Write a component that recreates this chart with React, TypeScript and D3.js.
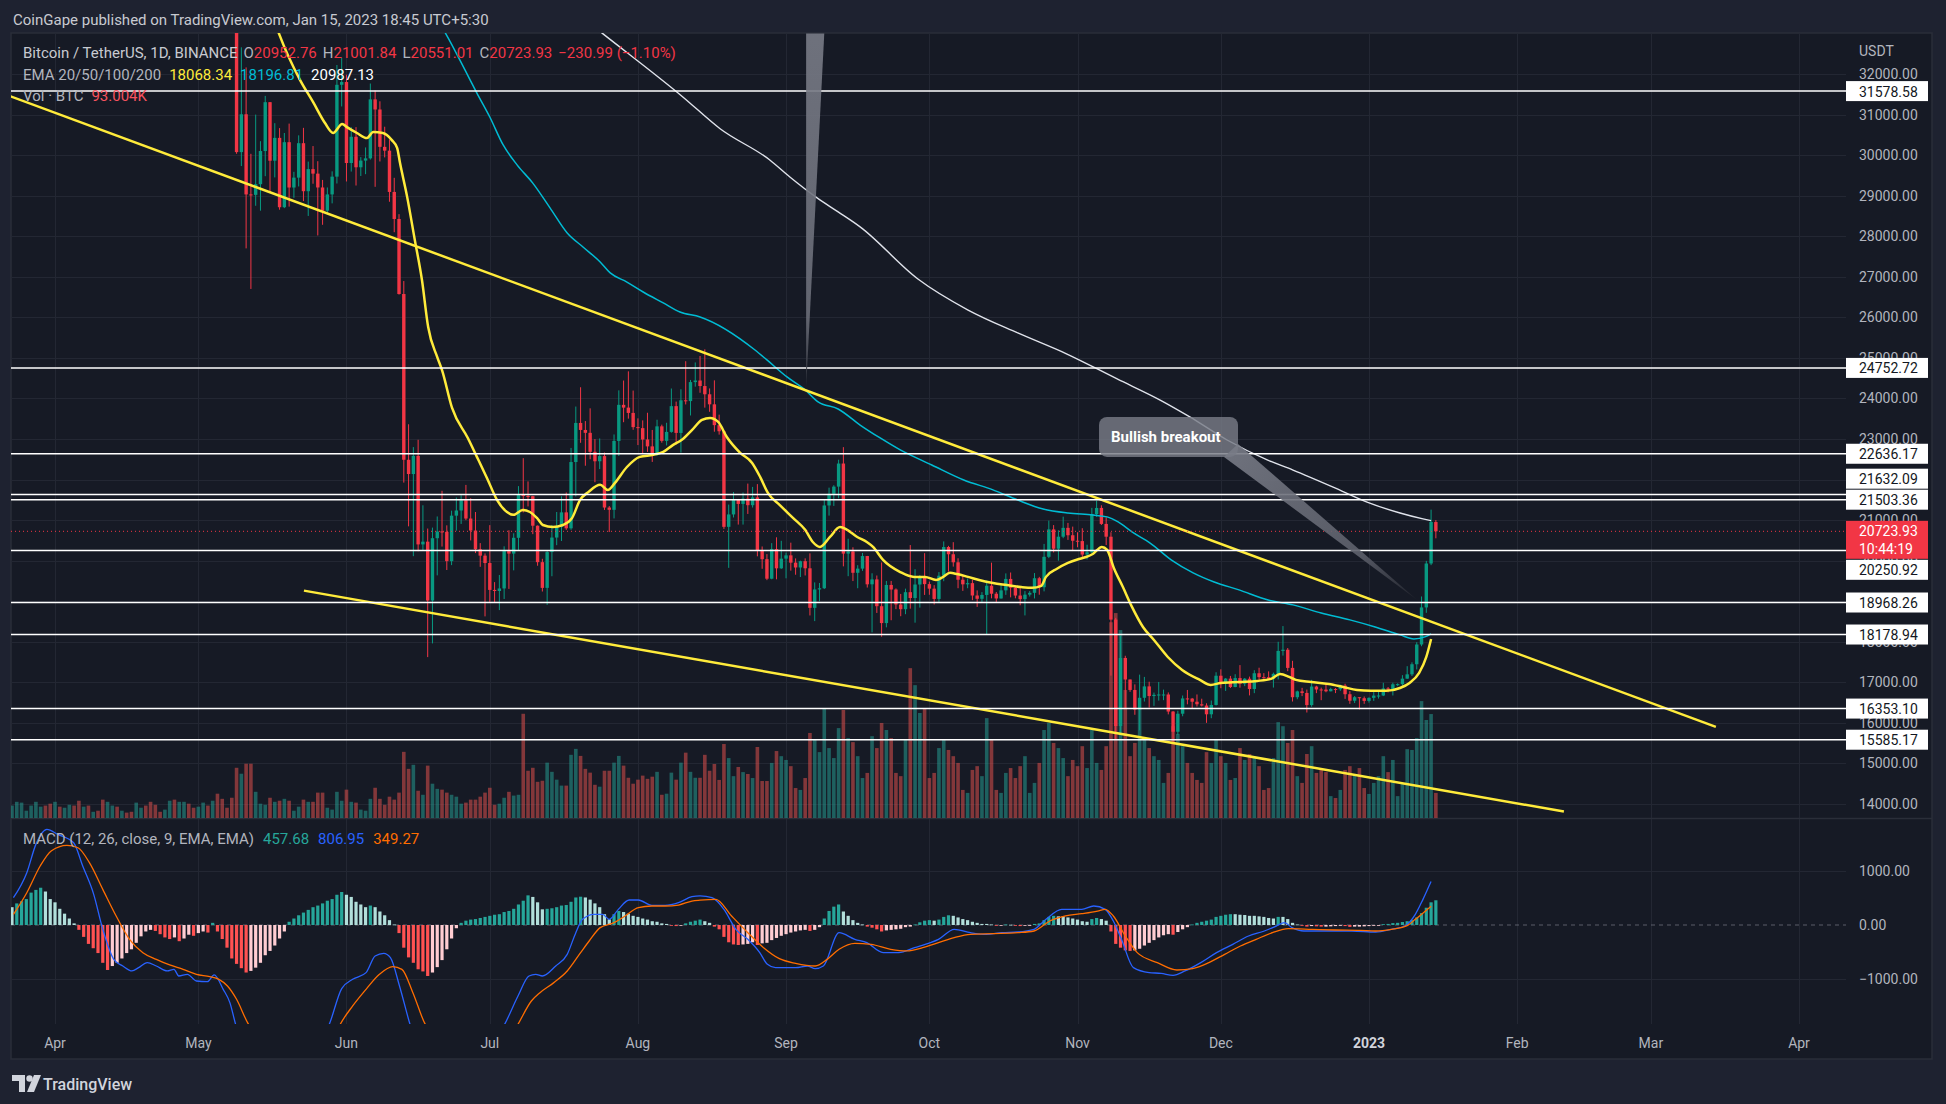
import React from "react";
import * as d3 from "d3";

// ================= DATA =================
// Daily BTC/USDT bars, first bar 2022-03-23, last bar 2023-01-15
const firstBarUTC = Date.UTC(2022, 2, 23);
const firstOpen = 42364;
const closes = [
  42882, 43991, 44313, 44511, 46827, 47122, 47434, 47062, 45538,
  46281, 45868, 46453, 46622, 45555, 43206, 43503, 42287, 42782, 42207,
  39521, 40127, 41166, 39935, 40553, 40424, 39716, 40826, 41502, 41374,
  40527, 39740, 39478, 39490, 40458, 38120, 39242, 39742, 38596, 37630,
  38469, 38525, 37729, 39690, 36552, 36013, 35472, 34060, 30074, 31007,
  29031, 29020, 29283, 30101, 31305, 29862, 30425, 28715, 30319, 29201,
  29445, 30294, 29110, 29655, 29543, 29202, 28629, 29031, 29469, 31734, 31802,
  29805, 30452, 29700, 29865, 29920, 31374, 31125, 30204, 30110, 29092,
  28425, 26575, 22488, 22136, 22583, 20401, 20469, 19017, 20554, 20720,
  20710, 19988, 21110, 21237, 21492, 21039, 20743, 20281, 20124, 19942,
  19279, 19252, 19315, 20236, 20175, 20564, 21624, 21594, 21591, 20862,
  19963, 19329, 20212, 20570, 20837, 21191, 20798, 22432, 23396, 23223,
  23152, 22684, 22451, 22579, 21310, 21254, 22952, 23842, 23774, 23643, 23293,
  23268, 22988, 22818, 22622, 23312, 22954, 23175, 23810, 23150, 23954,
  23935, 24403, 24442, 24306, 24103, 23855, 23342, 23191, 20834, 21140,
  21516, 21399, 21529, 21368, 21560, 20241, 20037, 19555, 20285, 19811, 20050,
  20131, 19951, 19832, 19987, 19812, 18837, 19290, 19320, 21361, 21648,
  21826, 22395, 20174, 20227, 19701, 19804, 20114, 19417, 19538, 18877,
  18461, 19401, 19289, 18920, 18803, 19223, 19079, 19412, 19591, 19422,
  19310, 19056, 19629, 20337, 20158, 19960, 19530, 19417, 19446, 19141,
  19060, 19155, 19382, 19185, 19068, 19268, 19550, 19334, 19140, 19052,
  19162, 19207, 19567, 19345, 20095, 20771, 20295, 20591, 20809, 20627, 20491,
  20483, 20151, 20207, 21148, 21300, 20906, 20591, 18547, 15922, 17601,
  17070, 16812, 16329, 16619, 16900, 16662, 16692, 16700, 16700, 16280,
  15782, 16226, 16603, 16599, 16522, 16459, 16428, 16212, 16442, 17163,
  16977, 17092, 16885, 17105, 16966, 17089, 16836, 17224, 17128, 17127,
  17085, 17209, 17775, 17804, 17356, 16633, 16777, 16738, 16439, 16896,
  16824, 16821, 16779, 16837, 16830, 16920, 16707, 16547, 16633, 16608, 16542,
  16617, 16673, 16675, 16850, 16831, 16951, 16955, 17091, 17197, 17446,
  17933, 18847, 19930, 20952.76, 20723.93,
];
const highs = [
  43000, 44250, 45090, 44800, 46900, 48190, 48100, 47700, 47600,
  46720, 47200, 47440, 46880, 47200, 45560, 43900, 43970, 42800, 43430,
  42420, 40700, 41560, 41500, 40850, 40710, 40600, 41000, 41760, 42200,
  42980, 40800, 39990, 39900, 40620, 40800, 39460, 40370, 39930, 38800,
  38680, 39170, 38650, 40020, 39850, 36680, 36130, 35510, 34243, 32658,
  32162, 30032, 30999, 30343, 31460, 31308, 30787, 30666, 30545, 30777,
  29588, 30487, 30672, 29840, 30223, 29850, 29388, 29202, 29600, 32222, 32399,
  31982, 30690, 30690, 29950, 30189, 31765, 31589, 31327, 30700, 30383,
  29440, 28544, 26895, 23363, 22800, 22981, 21365, 20792, 20815, 21090,
  21723, 20871, 21233, 21558, 21614, 21868, 21540, 21200, 20433, 20179,
  20876, 19471, 19647, 20354, 20750, 20675, 21838, 22527, 21954, 21599,
  20868, 20046, 20250, 20880, 21200, 21588, 21681, 22780, 23800, 24276,
  23442, 23756, 22998, 23014, 22666, 21347, 23112, 24199, 24442, 24668, 24194,
  23509, 23459, 23647, 23223, 23475, 23354, 23400, 24245, 23922, 24226,
  24918, 24456, 24888, 25047, 25211, 24247, 24446, 23600, 23208, 21383,
  21692, 21522, 21680, 21900, 21819, 21887, 20350, 20161, 20432, 20576, 20490,
  20198, 20444, 20056, 20000, 20057, 20180, 19464, 19450, 21500, 21800,
  21860, 22488, 22799, 20541, 20330, 19888, 20190, 20117, 19689, 19634,
  19956, 19500, 19500, 19316, 19180, 19310, 20385, 19790, 19645, 20185,
  19484, 19395, 19719, 20475, 20365, 20456, 20059, 19627, 19560, 19526,
  19267, 19225, 19513, 19951, 19228, 19425, 19686, 19708, 19349, 19347,
  19250, 19250, 19695, 19601, 20413, 20988, 20877, 20750, 21085, 20931, 20840,
  20700, 20800, 20393, 21302, 21480, 21365, 21069, 20700, 18590, 18150,
  17655, 17070, 16950, 17190, 17134, 17015, 16747, 17009, 16820, 16751,
  16291, 16300, 16675, 16812, 16615, 16701, 16596, 16483, 16551, 17249,
  17320, 17105, 17158, 17200, 17425, 17107, 17141, 17299, 17360, 17227,
  17270, 17240, 18000, 18387, 17846, 17531, 16796, 16864, 16821, 17061,
  16915, 16869, 16955, 16868, 16859, 16943, 16965, 16783, 16663, 16634, 16650,
  16630, 16760, 16772, 16990, 16885, 16991, 16975, 17177, 17398, 17494,
  17990, 19117, 19995, 21258, 21001.84,
];
const lows = [
  41900, 42600, 43700, 44200, 44400, 46600, 46950, 46550, 45200,
  44200, 45620, 45500, 45120, 45350, 43120, 42730, 42120, 42130, 41870,
  39200, 39250, 39550, 39550, 39770, 40000, 39550, 38540, 40570, 40820,
  39760, 39170, 39280, 39180, 38200, 37700, 37870, 38870, 38170, 37580,
  37390, 38050, 37520, 37670, 35860, 35260, 34790, 33710, 30033, 29730,
  27700, 26700, 28751, 28630, 29480, 29075, 29450, 28654, 28693, 28730,
  28947, 29227, 28866, 28500, 29294, 28019, 28282, 28577, 28810, 29300, 31200,
  29350, 29594, 29250, 29485, 29530, 29890, 29218, 29843, 29944, 28850,
  28099, 26560, 21925, 20846, 20111, 20232, 20246, 17622, 17960, 19637,
  20348, 19770, 19890, 20740, 20906, 21000, 20499, 20187, 19848, 18626,
  18975, 18977, 18781, 19055, 19304, 19761, 20257, 21189, 21338, 20654,
  19875, 19239, 18910, 19616, 20382, 20485, 20760, 20762, 21582, 22906,
  22341, 22500, 21934, 22258, 21250, 20706, 21042, 22582, 23414, 23502, 23227,
  22850, 22654, 22681, 22435, 22587, 22909, 22841, 23155, 22865, 22664,
  23852, 23580, 24291, 24140, 23773, 23671, 23180, 23108, 20783, 19823,
  21065, 20890, 20890, 21152, 21310, 20107, 19800, 19520, 19541, 19540, 19797,
  19565, 19754, 19653, 19596, 19635, 18649, 18510, 19000, 19300, 21111,
  21350, 21538, 19860, 19617, 19497, 19320, 19748, 19337, 18232, 18711,
  18125, 18356, 18531, 18805, 18630, 18680, 18816, 18471, 18843, 19155,
  19159, 18920, 18959, 19493, 19730, 19853, 19320, 19255, 19320, 19027,
  18860, 18966, 18190, 19071, 18975, 19063, 19157, 19095, 19071, 18900,
  18650, 19115, 19068, 19160, 19243, 20062, 20204, 20000, 20554, 20512, 20237,
  20330, 20048, 20031, 20180, 21080, 20880, 20384, 17166, 15588, 15754,
  16361, 16766, 16200, 15815, 16527, 16378, 16420, 16549, 16560, 16210,
  15476, 15703, 16163, 16458, 16355, 16404, 16405, 16001, 16115, 16428,
  16855, 16788, 16860, 16878, 16868, 16906, 16678, 16733, 17058, 17087,
  17071, 16871, 17071, 17660, 17275, 16527, 16584, 16660, 16256, 16399,
  16734, 16560, 16755, 16778, 16734, 16791, 16592, 16470, 16489, 16333, 16470,
  16500, 16543, 16600, 16660, 16753, 16676, 16910, 16912, 17085, 17156,
  17317, 17890, 18714, 19890, 20551.01,
];
// Volume, thousands of BTC
const volumesK = [
  46, 60, 57, 27, 46, 60, 42, 46, 53, 60, 42, 38, 49, 46, 64, 42, 46, 23, 27, 68,
  60, 46, 42, 27, 20, 23, 57, 38, 46, 60, 49, 23, 31, 64, 68, 60, 60, 53, 38, 42,
  57, 46, 64, 90, 71, 38, 75, 186, 164, 201, 201, 97, 53, 49, 75, 60, 64, 71, 64, 27,
  42, 68, 60, 60, 94, 94, 38, 31, 97, 64, 105, 60, 57, 31, 27, 71, 112, 71, 49, 79,
  68, 94, 245, 182, 197, 101, 86, 194, 127, 108, 105, 94, 86, 79, 53, 57, 68, 68, 79, 94,
  112, 49, 53, 75, 97, 83, 86, 386, 175, 186, 134, 138, 205, 171, 142, 120, 120, 234, 256, 230,
  182, 168, 123, 116, 175, 175, 205, 230, 194, 149, 127, 142, 157, 145, 153, 171, 86, 90, 168, 142,
  205, 242, 171, 149, 149, 234, 175,
  200, 141, 274, 222, 155, 189, 170, 163, 148, 263, 137, 137, 204, 248, 229,
  215, 192, 111, 104, 148, 315, 289, 244, 407, 259, 222, 333, 400, 296, 281, 229, 148, 167, 303, 259,
  352, 326, 296, 167, 155, 289, 555, 492, 389, 407,
  148, 167, 259, 289, 252, 229, 204, 104, 93, 178, 192, 155, 370, 289, 104, 93, 167, 185, 148, 192,
  229, 93, 130, 204, 326, 352, 278, 259, 222, 155, 215,
  192, 266, 185, 326, 204, 178, 266, 725, 759, 696, 474, 229, 278, 407, 296, 259, 229, 215, 130, 167,
  340, 311, 266, 204, 167, 141, 130, 244, 204, 289,
  229, 204, 141, 148, 259, 215, 237, 222, 192, 104, 111, 222, 355, 340, 278, 326, 155, 130, 237, 266,
  167, 185, 170, 81, 74, 104, 178, 192, 163, 185, 111,
  89, 130, 155, 229, 170, 215, 81, 126, 255, 252, 296, 433, 363, 385, 93.004,
];
// MACD histogram, one value per bar
const macdHist = [
  330, 400, 440, 480, 600, 650, 690, 620, 480,
  420, 300, 210, 120, 30, -90, -220, -350, -430, -520,
  -700, -833, -760, -700, -620, -520, -450, -330, -210, -120,
  -90, -110, -170, -230, -260, -230, -300, -250, -180, -200,
  -150, -120, -140, 40, -120, -260, -420, -620, -720, -800,
  -880, -850, -790, -700, -560, -480, -380, -250, -120, 60,
  120, 180, 230, 280, 330, 360, 400, 450, 480, 560, 611,
  560, 520, 430, 380, 330, 360, 330, 250, 180, 90,
  10, -150, -420, -600, -700, -820, -860, -944, -880, -780,
  -650, -450, -250, -60, 40, 80, 100, 110, 130, 150,
  170, 190, 200, 240, 260, 300, 380, 450, 549, 520,
  420, 290, 300, 310, 330, 360, 370, 430, 510, 524,
  510, 470, 400, 330, 200, 105, 200, 260, 240, 210, 170,
  150, 120, 100, 70, 60, 30, 20, -10, -20, -10,
  30, 60, 80, 100, 70, 40, -30, -80, -220, -320,
  -360, -370, -360, -350, -320, -370, -340, -330, -280, -240, -200,
  -170, -140, -120, -100, -90, -110, -90, -40, 120, 260,
  340, 380, 250, 170, 90, 40, 10, -30, -50, -80,
  -120, -100, -90, -80, -70, -40, -30, 10, 50, 80,
  90, 80, 100, 150, 180, 170, 140, 110, 90, 60,
  40, 20, 20, 10, -10, -10, 10, 5, -10, -20,
  -10, -5, 20, 30, 90, 150, 170, 160, 160, 140, 120,
  100, 70, 60, 110, 130, 110, 80, -120, -350, -420,
  -470, -480, -470, -440, -380, -330, -280, -230, -190, -170,
  -180, -130, -80, -40, 10, 40, 60, 80, 100, 150,
  170, 190, 200, 200, 190, 185, 170, 170, 160, 150,
  130, 120, 150, 150, 110, 40, 10, -10, -30, -20,
  -25, -30, -30, -25, -20, -10, -20, -35, -30, -30, -25,
  -20, -10, -5, 15, 20, 35, 40, 55, 70, 90,
  140, 220, 320, 420, 457.68,
];
// Line series as [days after 2022-04-01, value]
const macdLine = [
  [-8.7, 506], [-5.9, 969], [-4.0, 1493], [-1.7, 1771], [0.6, 1678], [3.9, 1524], [5.8, 1092], [8.1, 568],
  [10.0, -80], [12.3, -636], [14.2, -759], [16.1, -851], [17.5, -790], [19.3, -697], [21.2, -759], [23.5, -851],
  [24.9, -821], [25.9, -944], [27.7, -913], [29.6, -1037], [31.9, -1049], [33.3, -925], [35.2, -1191], [36.6, -1438],
  [37.8, -1839], [39.5, -2300], [42, -2750], [45, -2950], [49, -2800], [53, -2400], [57.4, -1839], [60.0, -1178],
  [62.3, -1006], [65.1, -882], [67.0, -574], [68.8, -524], [70.2, -605], [72.1, -1129], [74.3, -1839], [77, -2500],
  [80, -2830], [84, -2650], [88, -2550], [91, -2250], [94.1, -1839], [96.9, -1314], [99.2, -944], [100.6, -913],
  [102.0, -944], [104.8, -759], [107.2, -543], [109.0, -142], [110.4, 105], [112.8, 197], [114.6, 197], [116.0, 105],
  [117.9, 290], [120.2, 463], [122.1, 463], [124.9, 364], [127.7, 364], [130.5, 413], [133.3, 524], [135.0, 540],
  [137.5, 506], [140.0, 290], [142.5, -80], [145.0, -265], [147.5, -512], [149.1, -728], [150.8, -790], [155.0, -790],
  [157.5, -759], [159.1, -808], [160.8, -759], [164.1, -142], [167.4, -265], [169.9, -327], [173.3, -512], [176.6, -512],
  [179.9, -420], [183.2, -327], [184.9, -265], [188.2, -80], [191.6, -142], [194.9, -173], [198.2, -142], [201.5, -130],
  [204.9, -80], [207.4, 105], [210.7, 290], [214.9, 290], [217.4, 352], [219.8, 290], [221.5, 74], [223.2, -265],
  [225.7, -790], [229.0, -882], [231.5, -895], [234.0, -932], [236.5, -851], [239.8, -697], [243.1, -512], [246.5, -358],
  [249.8, -204], [253.1, -111], [255.6, -19], [257.3, 43], [258.9, -49], [261.4, -111], [266.4, -111], [271.4, -111],
  [276.4, -130], [279.7, -80], [282.5, -19], [284.7, 197], [286.3, 475], [288, 806.95],
];
const signalLine = [
  [-8.7, 197], [-5.9, 598], [-3.1, 1092], [-0.8, 1370], [2.5, 1475], [4.8, 1431], [7.2, 1154], [10.0, 660],
  [12.8, 167], [15.6, -265], [18.4, -512], [21.2, -636], [24.0, -740], [26.8, -821], [29.6, -913], [32.4, -956],
  [34.3, -1006], [36.1, -1129], [38.0, -1376], [40.3, -1808], [43, -2150], [47, -2450], [50, -2700], [54, -2600],
  [57.4, -2290], [59.7, -1839], [62.3, -1499], [65.1, -1191], [67.9, -913], [70.7, -771], [72.6, -821], [74.9, -1253],
  [77.5, -1839], [80, -2050], [84, -2600], [88, -2650], [92, -2450], [94.5, -2200], [96.9, -1839], [99.7, -1407],
  [101.5, -1253], [104.4, -1067], [107.2, -851], [110.0, -512], [111.8, -296], [114.1, -49], [117.0, 43], [119.3, 167],
  [122.1, 321], [124.9, 352], [127.7, 352], [130.5, 370], [133.3, 444], [135.0, 460], [138.3, 475], [141.6, 167],
  [145.0, -142], [148.3, -420], [151.6, -623], [155.0, -710], [159.1, -759], [161.6, -636], [164.1, -450], [167.4, -339],
  [170.8, -358], [174.9, -450], [178.3, -481], [181.6, -420], [184.9, -327], [188.2, -234], [191.6, -173], [196.5, -160],
  [201.5, -142], [204.9, -111], [208.2, 74], [211.5, 167], [214.9, 210], [218.2, 259], [219.8, 290], [221.5, 167],
  [224.0, -204], [226.5, -512], [230.7, -697], [234.8, -833], [238.1, -808], [241.5, -697], [244.8, -543], [248.1, -389],
  [251.4, -265], [254.8, -142], [258.1, -68], [263.1, -80], [268.1, -93], [273.1, -99], [276.4, -111], [279.7, -80],
  [283.1, -6], [284.7, 105], [288, 349.27],
];
const ema20 = [
  [44, 34000], [46.9, 32990], [51.3, 31850], [54.0, 31310], [56.5, 30790], [58.2, 30545], [60.1, 30770], [61.1, 30690],
  [63.2, 30545], [65.3, 30420], [66.6, 30570], [68.6, 30545], [70.5, 30370], [71.6, 30180], [72.2, 29810], [73.7, 28970],
  [75.3, 27910], [76.8, 26920], [78.1, 25760], [80.0, 25020], [81.0, 24700], [83.1, 23765], [86.4, 23025], [88.3, 22560],
  [90.4, 22040], [92.5, 21500], [94.6, 21200], [95.9, 21130], [97.9, 21250], [99.4, 21200], [100.9, 21050], [102.1, 20880],
  [104.2, 20830], [106.3, 20880], [108.2, 21050], [109.9, 21500], [111.6, 21690], [114.1, 21870], [115.7, 21740], [117.2, 21920],
  [119.7, 22310], [122.4, 22560], [125.2, 22610], [127.3, 22680], [129.3, 22850], [131.2, 22980], [133.3, 23220], [135.4, 23470],
  [137.1, 23520], [138.8, 23420], [140.6, 23050], [143.4, 22660], [145.9, 22410], [147.6, 22060], [149.2, 21670], [151.7, 21370],
  [154.5, 21050], [157.0, 20760], [158.6, 20460], [160.1, 20340], [162.2, 20585], [164.3, 20830], [165.8, 20760], [167.9, 20585],
  [169.9, 20460], [171.2, 20340], [173.3, 20020], [176.9, 19720], [179.8, 19600], [182.1, 19600], [184.4, 19525], [185.9, 19600],
  [187.3, 19700], [188.8, 19670], [191.1, 19600], [193.4, 19525], [196.3, 19450], [199.2, 19400], [202.2, 19350], [204.5, 19330],
  [206.4, 19380], [207.4, 19600], [209.7, 19800], [212.0, 19945], [214.3, 20040], [215.8, 20090], [217.2, 20165], [219.1, 20340],
  [220.2, 20265], [221.6, 19820], [223.5, 19350], [225.4, 18860], [227.7, 18365], [230.0, 18045], [232.9, 17625], [235.9, 17305],
  [239.6, 17060], [241.9, 16935], [244.0, 16985], [247.8, 17010], [251.6, 17035], [254.5, 17085], [256.4, 17205], [258.3, 17135],
  [259.7, 17060], [262.9, 17010], [266.6, 16960], [269.6, 16885], [272.5, 16810], [275.4, 16790], [278.6, 16790], [281.5, 16860],
  [283.5, 16985], [285.5, 17232], [287, 17626], [288, 18068.34],
];
const ema50 = [
  [78, 33700], [81.8, 32990], [85.8, 32100], [88.3, 31530], [91.0, 30940], [93.8, 30250], [96.7, 29760], [100.0, 29310],
  [103.6, 28700], [107.2, 28080], [110.5, 27735], [114.1, 27365], [116.2, 27095], [119.7, 26870], [123.1, 26625], [127.3, 26355],
  [130.8, 26130], [135.0, 26010], [146.5, 25195], [149.0, 24950], [153.2, 24530], [157.0, 24210], [159.7, 23915], [163.9, 23740],
  [168.5, 23345], [172.7, 23025], [176.9, 22730], [183.5, 22360], [190.2, 21990], [196.3, 21745], [201.5, 21495], [206.8, 21275],
  [212.0, 21175], [217.2, 21125], [220.2, 21080], [222.5, 20955], [225.4, 20710], [229.2, 20435], [233.6, 20020], [238.2, 19700],
  [242.6, 19475], [247.8, 19280], [253.9, 19030], [259.1, 18910], [265.0, 18710], [271.0, 18540], [276.3, 18365], [281.5, 18170],
  [284.4, 18070], [286.7, 18120], [288, 18196.81],
];
const ema200 = [
  [105, 33890], [114.7, 32990], [131.4, 31435], [139.2, 30650], [149.6, 29880], [153.8, 29460], [159.5, 28945], [163.9, 28600],
  [168.5, 28230], [180.6, 26945], [191.1, 26180], [201.5, 25615], [211.8, 25095], [222.3, 24480], [231.3, 23960], [237.5, 23545],
  [245.3, 22975], [253.7, 22485], [259.1, 22235], [267.5, 21815], [274.6, 21445], [281.5, 21175], [286.3, 21030], [288, 20987.13],
];
const levelPrices = [31578.58, 24752.72, 22636.17, 21632.09, 21503.36, 20250.92, 18968.26, 18178.94, 16353.10, 15585.17];
const upperTrend = [[-10, 31480], [347.6, 15900]];
const lowerTrend = [[52.1, 19261], [315.8, 13814]];
const needleShape = { tip: [157.2, 24260], topLeft: [157.2, 33000], topRight: [161.0, 33000] };
const calloutText = "Bullish breakout";
const calloutAnchor = [218.5, 23545];
const calloutTip = [285.1, 19030];
const lastPrice = 20723.93;
const countdown = "10:44:19";
const priceTicks = [14000, 15000, 16000, 17000, 18000, 19000, 20000, 21000, 22000, 23000, 24000, 25000, 26000, 27000, 28000, 29000, 30000, 31000, 32000];
const macdTicks = [1000, 0, -1000];
const macdTickLabels = ["1000.00", "0.00", "\u22121000.00"];
const monthTicks = ["2022-04-01", "2022-05-01", "2022-06-01", "2022-07-01", "2022-08-01", "2022-09-01", "2022-10-01", "2022-11-01", "2022-12-01", "2023-01-01", "2023-02-01", "2023-03-01", "2023-04-01"];
const monthLabels = ["Apr", "May", "Jun", "Jul", "Aug", "Sep", "Oct", "Nov", "Dec", "2023", "Feb", "Mar", "Apr"];

// ================= STYLE / LAYOUT =================
const W = 1946, H = 1104;
const L = 11, R = 1846, T = 33, PB = 818, MB = 1024, FB = 1059, FR = 1932;
const OUTER = "#1e2230", BG = "#161a25", GRID = "#232733", BORDER = "#2a2e39";
const UP = "#089981", DOWN = "#f23645", TXT = "#b2b5be";
const FONT = "Roboto, 'Liberation Sans', Arial, sans-serif";
const DAY = 86400000;
const dayZero = Date.UTC(2022, 3, 1);
const fromDay = (d: number) => new Date(dayZero + d * DAY);
const barDate = (i: number) => new Date(firstBarUTC + i * DAY);

export default function App() {
  const x = d3.scaleUtc().domain([new Date(Date.UTC(2022, 3, 1)), new Date(Date.UTC(2023, 3, 1))]).range([55, 1799]);
  const y = d3.scaleLinear().domain([14000, 32000]).range([804, 74]);
  const yVol = d3.scaleLinear().domain([0, 800]).range([PB, PB - 216]);
  const yM = d3.scaleLinear().domain([-1000, 1000]).range([979, 871]);

  const n = Math.min(closes.length, highs.length, lows.length);
  const bars = d3.range(n).map((i) => {
    const o = i === 0 ? firstOpen : closes[i - 1];
    const c = closes[i];
    return { i, t: barDate(i), o, c, h: highs[i], l: lows[i], up: c >= o };
  });

  const priceLine = d3.line<number[]>().x((p) => x(fromDay(p[0]))).y((p) => y(p[1])).curve(d3.curveMonotoneX);
  const macdPath = d3.line<number[]>().x((p) => x(fromDay(p[0]))).y((p) => yM(p[1])).curve(d3.curveMonotoneX);
  const straight = d3.line<number[]>().x((p) => x(fromDay(p[0]))).y((p) => y(p[1]));

  // level label placement (avoid overlaps like the platform does)
  const cpCy = y(lastPrice);
  const cpTop = cpCy - 10.5, cpBottom = cpCy + 27.5;
  const boxH = 20;
  const labels = levelPrices.map((v) => ({ v, cy: y(v) }));
  labels.forEach((p) => {
    if (p.cy + boxH / 2 > cpTop && p.cy - boxH / 2 < cpBottom) {
      p.cy = p.cy > cpCy ? cpBottom + boxH / 2 + 1 : cpTop - boxH / 2 - 1;
    }
  });
  labels.sort((a, b) => b.cy - a.cy);
  for (let k = 1; k < labels.length; k++) {
    const below = labels[k - 1];
    if (labels[k].cy > below.cy - boxH - 1) labels[k].cy = below.cy - boxH - 1;
  }

  const histColor = (i: number) => {
    const v = macdHist[i];
    const prev = i > 0 ? macdHist[i - 1] : v;
    if (v >= 0) return v > prev ? "#26a69a" : "#b2dfdb";
    return v < prev ? "#ff5252" : "#ffcdd2";
  };

  // annotations
  const nTip = [x(fromDay(needleShape.tip[0])), y(needleShape.tip[1])];
  const nTL = [x(fromDay(needleShape.topLeft[0])), y(needleShape.topLeft[1])];
  const nTR = [x(fromDay(needleShape.topRight[0])), y(needleShape.topRight[1])];
  const cbX = x(fromDay(calloutAnchor[0]));
  const cbY = y(calloutAnchor[1]);
  const cbW = 139, cbH = 40;
  const ctX = x(fromDay(calloutTip[0]));
  const ctY = y(calloutTip[1]);

  return (
    <div style={{ position: "absolute", left: 0, top: 0 }}>
      <svg width={W} height={H} style={{ display: "block", fontFamily: FONT }}>
        <defs>
          <clipPath id="pricePane"><rect x={L} y={T} width={R - L} height={PB - T} /></clipPath>
          <clipPath id="macdPane"><rect x={L} y={PB + 1} width={R - L} height={MB - PB - 1} /></clipPath>
          <linearGradient id="ptrGrad" gradientUnits="userSpaceOnUse" x1={cbX + cbW - 6} y1={cbY + cbH - 6} x2={ctX} y2={ctY}>
            <stop offset="0" stopColor="#787b86" stopOpacity="0.9" />
            <stop offset="0.7" stopColor="#5d606b" stopOpacity="0.9" />
            <stop offset="1" stopColor="#1c1f28" stopOpacity="1" />
          </linearGradient>
          <linearGradient id="needleGrad" gradientUnits="userSpaceOnUse" x1={nTL[0]} y1={nTL[1]} x2={nTip[0]} y2={nTip[1]}>
            <stop offset="0" stopColor="#787b86" stopOpacity="0.9" />
            <stop offset="0.8" stopColor="#6a6d78" stopOpacity="0.9" />
            <stop offset="1" stopColor="#2a2d36" stopOpacity="1" />
          </linearGradient>
        </defs>

        <rect x={0} y={0} width={W} height={H} fill={OUTER} />
        <text x={13} y={20} fill="#c8cad1" fontSize={15} dominantBaseline="central">
          CoinGape published on TradingView.com, Jan 15, 2023 18:45 UTC+5:30
        </text>

        <rect x={L} y={T} width={FR - L} height={FB - T} fill={BG} stroke={BORDER} strokeWidth={1.5} />

        {/* grids */}
        {monthTicks.map((m, k) => {
          const xx = Math.round(x(new Date(m + "T00:00:00Z"))) + 0.5;
          return <line key={"vg" + k} x1={xx} x2={xx} y1={T} y2={MB} stroke={GRID} strokeWidth={1} />;
        })}
        {priceTicks.map((p) => (
          <line key={"hg" + p} x1={L} x2={R} y1={Math.round(y(p)) + 0.5} y2={Math.round(y(p)) + 0.5} stroke={GRID} strokeWidth={1} />
        ))}
        {macdTicks.filter((v) => v !== 0).map((v) => (
          <line key={"mg" + v} x1={L} x2={R} y1={Math.round(yM(v)) + 0.5} y2={Math.round(yM(v)) + 0.5} stroke={GRID} strokeWidth={1} />
        ))}
        <line x1={L} x2={FR} y1={PB + 0.5} y2={PB + 0.5} stroke={BORDER} strokeWidth={1.5} />

        {/* price pane */}
        <g clipPath="url(#pricePane)">
          {bars.map((b) => (
            <rect key={"v" + b.i} x={x(b.t) - 1.8} width={3.6} y={yVol(volumesK[b.i] || 0)} height={PB - yVol(volumesK[b.i] || 0)}
              fill={b.up ? "rgba(38,166,154,0.5)" : "rgba(239,83,80,0.5)"} />
          ))}
          {bars.map((b) => {
            const cx = x(b.t);
            const top = y(Math.max(b.o, b.c));
            const hgt = Math.max(1, Math.abs(y(b.o) - y(b.c)));
            const col = b.up ? UP : DOWN;
            return (
              <g key={"c" + b.i}>
                <line x1={cx} x2={cx} y1={y(b.h)} y2={y(b.l)} stroke={col} strokeWidth={1} />
                <rect x={cx - 1.7} width={3.4} y={top} height={hgt} fill={col} />
              </g>
            );
          })}
          <path d={priceLine(ema200) || ""} fill="none" stroke="#e0e3eb" strokeWidth={1.4} />
          <path d={priceLine(ema50) || ""} fill="none" stroke="#00bcd4" strokeWidth={1.5} />
          <path d={priceLine(ema20) || ""} fill="none" stroke="#ffeb3b" strokeWidth={2.5} />
          <path d={straight(upperTrend) || ""} fill="none" stroke="#ffeb3b" strokeWidth={2.5} />
          <path d={straight(lowerTrend) || ""} fill="none" stroke="#ffeb3b" strokeWidth={2.5} />
          {levelPrices.map((v) => (
            <line key={"lv" + v} x1={L} x2={R} y1={y(v)} y2={y(v)} stroke="#ffffff" strokeWidth={1.5} />
          ))}
          <line x1={L} x2={R} y1={cpCy} y2={cpCy} stroke={DOWN} strokeWidth={1} strokeDasharray="1 3" />
          <polygon points={`${nTL[0]},${nTL[1]} ${nTR[0]},${nTR[1]} ${nTip[0]},${nTip[1]}`} fill="url(#needleGrad)" />
          <polygon points={`${cbX + cbW - 14},${cbY + cbH} ${cbX + cbW},${cbY + cbH - 13} ${ctX},${ctY}`} fill="url(#ptrGrad)" />
          <rect x={cbX} y={cbY} width={cbW} height={cbH} rx={8} fill="#787b86" fillOpacity={0.82} />
          <text x={cbX + 12} y={cbY + 20} fill="#ffffff" fontSize={15} fontWeight={700} dominantBaseline="central">{calloutText}</text>
        </g>

        {/* MACD pane */}
        <g clipPath="url(#macdPane)">
          <line x1={L} x2={R} y1={yM(0)} y2={yM(0)} stroke="#787b86" strokeOpacity={0.7} strokeDasharray="4 4" />
          {bars.map((b) => {
            const v = macdHist[b.i];
            if (v === undefined) return null;
            const y0 = yM(0), y1 = yM(v);
            return <rect key={"h" + b.i} x={x(b.t) - 1.6} width={3.2} y={Math.min(y0, y1)} height={Math.max(0.8, Math.abs(y1 - y0))} fill={histColor(b.i)} />;
          })}
          <path d={macdPath(macdLine) || ""} fill="none" stroke="#2962ff" strokeWidth={1.3} />
          <path d={macdPath(signalLine) || ""} fill="none" stroke="#ff6d00" strokeWidth={1.3} />
        </g>

        {/* legends */}
        <text x={23} y={53} fontSize={15} dominantBaseline="central" fill={TXT}>
          <tspan fill="#c8cad1">Bitcoin / TetherUS, 1D, BINANCE</tspan>
          <tspan dx={6}>O</tspan><tspan fill={DOWN}>20952.76</tspan>
          <tspan dx={6}>H</tspan><tspan fill={DOWN}>21001.84</tspan>
          <tspan dx={6}>L</tspan><tspan fill={DOWN}>20551.01</tspan>
          <tspan dx={6}>C</tspan><tspan fill={DOWN}>20723.93</tspan>
          <tspan dx={6} fill={DOWN}>{"\u2212230.99 (\u22121.10%)"}</tspan>
        </text>
        <text x={23} y={75} fontSize={15} dominantBaseline="central" fill={TXT}>
          <tspan>EMA 20/50/100/200</tspan>
          <tspan dx={8} fill="#ffeb3b">18068.34</tspan>
          <tspan dx={8} fill="#00bcd4">18196.81</tspan>
          <tspan dx={8} fill="#ffffff">20987.13</tspan>
        </text>
        <text x={23} y={96} fontSize={15} dominantBaseline="central" fill={TXT}>
          <tspan>{"Vol \u00b7 BTC"}</tspan>
          <tspan dx={8} fill="#f7525f">93.004K</tspan>
        </text>
        <text x={23} y={839} fontSize={15} dominantBaseline="central" fill={TXT}>
          <tspan>MACD (12, 26, close, 9, EMA, EMA)</tspan>
          <tspan dx={9} fill="#26a69a">457.68</tspan>
          <tspan dx={9} fill="#2962ff">806.95</tspan>
          <tspan dx={9} fill="#ff6d00">349.27</tspan>
        </text>

        {/* price axis */}
        <text x={1859} y={51} fontSize={14} fill={TXT} dominantBaseline="central">USDT</text>
        {priceTicks.map((p) => (
          <text key={"pt" + p} x={1859} y={y(p)} fontSize={14} fill={TXT} dominantBaseline="central">{p.toFixed(2)}</text>
        ))}
        {macdTicks.map((v, k) => (
          <text key={"mt" + v} x={1859} y={yM(v)} fontSize={14} fill={TXT} dominantBaseline="central">{macdTickLabels[k]}</text>
        ))}
        {labels.map((lb) => (
          <g key={"lb" + lb.v}>
            <rect x={R} y={lb.cy - boxH / 2} width={82} height={boxH} fill="#ffffff" />
            <text x={1859} y={lb.cy + 0.5} fontSize={14} fill="#131722" dominantBaseline="central">{lb.v.toFixed(2)}</text>
          </g>
        ))}
        <rect x={R} y={cpTop} width={82} height={cpBottom - cpTop} fill={DOWN} />
        <text x={1859} y={cpCy} fontSize={14} fill="#ffffff" dominantBaseline="central">{lastPrice.toFixed(2)}</text>
        <text x={1859} y={cpCy + 18} fontSize={14} fill="#ffffff" dominantBaseline="central">{countdown}</text>

        {/* time axis */}
        {monthTicks.map((m, k) => (
          <text key={"tl" + k} x={x(new Date(m + "T00:00:00Z"))} y={1043} fontSize={14} textAnchor="middle" dominantBaseline="central"
            fill={monthLabels[k] === "2023" ? "#d1d4dc" : TXT} fontWeight={monthLabels[k] === "2023" ? 700 : 400}>
            {monthLabels[k]}
          </text>
        ))}

        {/* footer logo */}
        <g fill="#d1d4dc">
          <path d="M12 1075 h13 v17 h-6 v-11 h-7 z" />
          <circle cx={29.5} cy={1078.5} r={3.2} />
          <path d="M34 1075 h7 l-7 17 h-7 z" />
        </g>
        <text x={43} y={1084} fontSize={16} fill="#d1d4dc" fontWeight={500} dominantBaseline="central">TradingView</text>
      </svg>
    </div>
  );
}
